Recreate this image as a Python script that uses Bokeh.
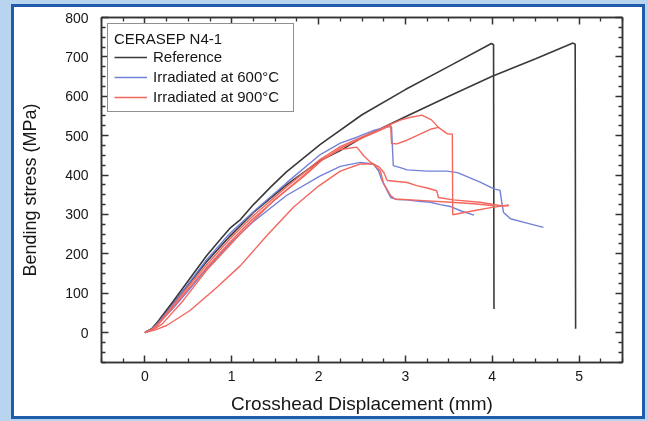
from bokeh.plotting import figure
from bokeh.models import FixedTicker, LinearAxis, Range1d, GlobalInlineStyleSheet
from bokeh.embed import file_html
from bokeh.resources import INLINE

# ---------------- data ----------------
x_ticks = [0, 1, 2, 3, 4, 5]
x_minor = [-0.5, -0.25, 0.25, 0.5, 0.75, 1.25, 1.5, 1.75, 2.25, 2.5, 2.75,
           3.25, 3.5, 3.75, 4.25, 4.5, 4.75, 5.25, 5.5]
y_ticks = [0, 100, 200, 300, 400, 500, 600, 700, 800]
y_minor = [-75, -50, -25, 25, 50, 75, 125, 150, 175, 225, 250, 275, 325, 350,
           375, 425, 450, 475, 525, 550, 575, 625, 650, 675, 725, 750, 775]

# Reference
ref1_x = [0, 0.08, 0.15, 0.33, 0.52, 0.71, 0.87, 0.98, 1.10, 1.25, 1.45, 1.63,
          2.02, 2.50, 3.00, 3.50, 3.99, 4.015, 4.02]
ref1_y = [0, 10, 28, 81, 138, 195, 237, 265, 287, 325, 370, 408,
          478, 553, 617, 676, 734, 731, 60]
ref2_x = [0, 0.08, 0.15, 0.33, 0.52, 0.71, 0.98, 1.25, 1.63, 2.02, 2.25, 2.50,
          3.00, 3.50, 4.00, 4.50, 4.93, 4.955, 4.96]
ref2_y = [0, 9, 25, 75, 128, 180, 245, 305, 375, 437, 462, 495,
          548, 600, 651, 695, 735, 732, 10]

# Irradiated at 600 C
b1_x = [0, 0.08, 0.15, 0.33, 0.52, 0.71, 0.98, 1.25, 1.63, 2.02, 2.25, 2.44,
        2.63, 2.81, 2.84, 2.86, 2.95, 3.02, 3.25, 3.48, 3.60, 3.71, 3.86, 4.02,
        4.09, 4.11, 4.13, 4.21, 4.40, 4.59]
b1_y = [0, 9, 24, 74, 130, 185, 252, 307, 380, 452, 481, 496,
        513, 523, 522, 424, 418, 413, 410, 410, 406, 396, 382, 365,
        361, 330, 305, 289, 278, 267]
b2_x = [0, 0.08, 0.15, 0.33, 0.52, 0.71, 0.98, 1.25, 1.63, 2.02, 2.25, 2.48,
        2.63, 2.69, 2.73, 2.78, 2.83, 2.90, 3.02, 3.15, 3.29, 3.40, 3.52, 3.65,
        3.79]
b2_y = [0, 8, 21, 63, 112, 162, 226, 282, 348, 398, 422, 432,
        428, 411, 386, 365, 343, 338, 337, 333, 331, 325, 320, 308,
        298]

# Irradiated at 900 C
r1_x = [0, 0.08, 0.15, 0.33, 0.52, 0.71, 0.98, 1.25, 1.63, 2.02, 2.25, 2.50,
        2.70, 2.82, 2.95, 3.05, 3.19, 3.30, 3.38, 3.48, 3.54, 3.545, 3.80, 4.00,
        4.19]
r1_y = [0, 8, 22, 70, 122, 172, 238, 297, 370, 440, 472, 497,
        515, 528, 540, 546, 552, 540, 521, 505, 504, 299, 310, 318,
        324]
r2_x = [0, 0.08, 0.15, 0.33, 0.52, 0.71, 0.98, 1.25, 1.63, 2.02, 2.25, 2.50,
        2.70, 2.83, 2.84, 2.90, 3.00, 3.10, 3.20, 3.30, 3.38]
r2_y = [0, 7, 20, 66, 116, 165, 230, 290, 362, 435, 468, 494,
        513, 526, 480, 479, 487, 497, 507, 517, 521]
r3_x = [0, 0.10, 0.20, 0.44, 0.71, 1.10, 1.48, 1.85, 2.05, 2.25, 2.44, 2.52,
        2.60, 2.70, 2.75, 2.79, 3.02, 3.13, 3.25, 3.36, 3.38, 3.55, 3.86, 4.10,
        4.19]
r3_y = [0, 8, 22, 81, 158, 251, 335, 400, 440, 465, 471, 449,
        432, 420, 407, 386, 381, 373, 367, 360, 343, 337, 331, 322,
        322]
r4_x = [0, 0.12, 0.25, 0.52, 0.83, 1.10, 1.40, 1.71, 2.00, 2.25, 2.48, 2.63,
        2.71, 2.75, 2.83, 2.88, 3.21, 3.52, 3.79, 4.02]
r4_y = [0, 7, 18, 56, 115, 170, 245, 318, 372, 410, 428, 428,
        411, 378, 348, 339, 335, 331, 327, 322]

legend_title = "CERASEP N4-1"
labels = ["Reference", "Irradiated at 600\u00b0C", "Irradiated at 900\u00b0C"]

# ---------------- styling ----------------
FONT = "Liberation Sans"
BLACK = "#3a3a3a"
BLUE = "#7282d8"
RED = "#f3675e"
TXT = "#161616"

page_css = """
html { background: #b9d4ee; }
body { background: transparent; }
body::before { content: ''; position: fixed; left: 11px; top: 4px;
  width: 628px; height: 409px; border: 3px solid #1f5cab;
  background: #ffffff; z-index: -1; }
"""

p = figure(width=648, height=421, output_backend="svg", toolbar_location=None,
           x_range=Range1d(-0.5, 5.5), y_range=Range1d(-76, 800),
           min_border_left=101, min_border_right=26, min_border_top=17,
           min_border_bottom=59)
p.stylesheets = [GlobalInlineStyleSheet(css=page_css)]
p.border_fill_alpha = 0
p.background_fill_color = "white"
p.outline_line_color = "#333333"
p.outline_line_width = 1.5
p.xgrid.visible = False
p.ygrid.visible = False


def style_axis(ax, ticks, minor, show_labels=True):
    ax.ticker = FixedTicker(ticks=ticks, minor_ticks=minor)
    ax.axis_line_color = "#333333"
    ax.axis_line_width = 1.5
    ax.major_tick_line_color = "#333333"
    ax.major_tick_line_width = 1.5
    ax.minor_tick_line_color = "#333333"
    ax.minor_tick_line_width = 1.3
    ax.major_tick_in = 7
    ax.major_tick_out = 0
    ax.minor_tick_in = 4
    ax.minor_tick_out = 0
    if show_labels:
        ax.major_label_text_font = FONT
        ax.major_label_text_font_size = "14px"
        ax.major_label_text_color = TXT
        ax.axis_label_text_font = FONT
        ax.axis_label_text_font_style = "normal"
        ax.axis_label_text_color = TXT
    else:
        ax.major_label_text_font_size = "0px"
        ax.major_label_text_alpha = 0
        ax.major_label_standoff = 0
        ax.axis_label = None


xax = p.xaxis[0]
yax = p.yaxis[0]
style_axis(xax, x_ticks, x_minor)
style_axis(yax, y_ticks, y_minor)
xax.axis_label = "Crosshead Displacement (mm)"
yax.axis_label = "Bending stress (MPa)"
xax.axis_label_text_font_size = "19px"
yax.axis_label_text_font_size = "18px"
xax.major_label_standoff = 8
xax.axis_label_standoff = 9
yax.major_label_standoff = 13
yax.axis_label_standoff = 22

top_ax = LinearAxis()
style_axis(top_ax, x_ticks, x_minor, show_labels=False)
p.add_layout(top_ax, "above")
right_ax = LinearAxis()
style_axis(right_ax, y_ticks, y_minor, show_labels=False)
p.add_layout(right_ax, "right")

LW = 1.4
p.line(ref1_x, ref1_y, line_color=BLACK, line_width=1.6, legend_label=labels[0])
p.line(ref2_x, ref2_y, line_color=BLACK, line_width=1.6)
p.line(b1_x, b1_y, line_color=BLUE, line_width=LW, legend_label=labels[1])
p.line(b2_x, b2_y, line_color=BLUE, line_width=LW)
p.line(r1_x, r1_y, line_color=RED, line_width=LW, legend_label=labels[2])
p.line(r2_x, r2_y, line_color=RED, line_width=LW)
p.line(r3_x, r3_y, line_color=RED, line_width=LW)
p.line(r4_x, r4_y, line_color=RED, line_width=LW)

lg = p.legend[0]
lg.location = "top_left"
lg.margin = 6
lg.title = legend_title
lg.title_text_font = FONT
lg.title_text_font_size = "15px"
lg.title_text_font_style = "normal"
lg.title_text_color = TXT
lg.title_standoff = 1
lg.label_text_font = FONT
lg.label_text_font_size = "15px"
lg.label_text_color = TXT
lg.label_height = 16
lg.glyph_height = 16
lg.glyph_width = 33
lg.label_standoff = 6
lg.label_width = 134
lg.spacing = 3
lg.padding = 6
lg.border_line_color = "#222222"
lg.border_line_width = 1
lg.background_fill_color = "white"
lg.background_fill_alpha = 1.0

open("out.html", "w").write(file_html(p, INLINE))
